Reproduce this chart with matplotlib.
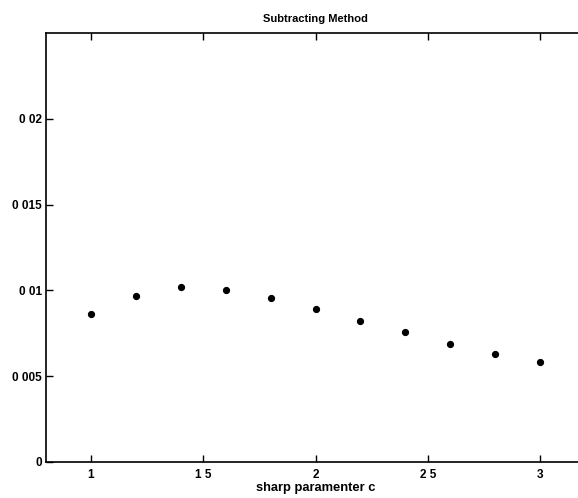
import numpy as np
import matplotlib
matplotlib.use('Agg')
import matplotlib.pyplot as plt

# sharp parameter c and the measured values
c_values = [1.0, 1.2, 1.4, 1.6, 1.8, 2.0, 2.2, 2.4, 2.6, 2.8, 3.0]
err_values = [0.00864, 0.00970, 0.01022, 0.01001, 0.00954, 0.00889,
              0.00819, 0.00755, 0.00685, 0.00627, 0.00581]

x_ticks = [1, 1.5, 2, 2.5, 3]
x_labels = ['1', '1 5', '2', '2 5', '3']
y_ticks = [0, 0.005, 0.01, 0.015, 0.02]
y_labels = ['0', '0 005', '0 01', '0 015', '0 02']

plt.rcParams['font.family'] = ['Liberation Sans', 'DejaVu Sans']

fig = plt.figure(figsize=(5.78, 4.98), dpi=100)
# axes run past the right edge, like the cropped scan
ax = fig.add_axes([0.0796, 0.0723, 0.9325, 0.8614])

ax.plot(c_values, err_values, linestyle='none', marker='o', color='black',
        markersize=4.2)

ax.set_xlim(0.8, 3.2)
ax.set_ylim(0, 0.025)
ax.set_xticks(x_ticks)
ax.set_xticklabels(x_labels)
ax.set_yticks(y_ticks)
ax.set_yticklabels(y_labels)

ax.tick_params(direction='in', length=5, width=1, labelsize=8.5,
               top=True, right=True)
ax.tick_params(axis='y', pad=3)
ax.tick_params(axis='x', pad=5)
for lab in ax.get_xticklabels() + ax.get_yticklabels():
    lab.set_fontweight('bold')
for s in ax.spines.values():
    s.set_linewidth(1.2)

ax.set_title('Subtracting Method', fontsize=8, fontweight='bold', pad=8)
ax.set_xlabel('sharp paramenter c', fontsize=9.3, fontweight='bold', labelpad=1)

fig.savefig('out.png', dpi=100)
